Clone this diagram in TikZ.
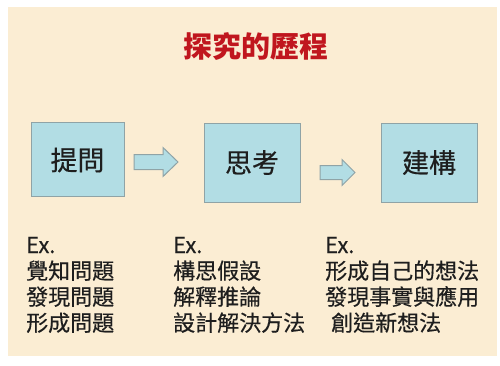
\documentclass[tikz,border=0pt]{standalone}
\usepackage{fontspec}
\setmainfont{Noto Sans CJK TC}
\newfontfamily\cjk{Noto Sans CJK TC}
\newfontfamily\cjkmed[FakeBold=0.4]{Noto Sans CJK TC}
\definecolor{bgbeige}{HTML}{FBEDD3}
\definecolor{boxfill}{HTML}{B2DDE4}
\definecolor{boxline}{HTML}{8FA3A6}
\definecolor{titlered}{HTML}{C0161E}
\definecolor{txt}{HTML}{1E1E1E}
\tikzset{
  stagebox/.style={draw=boxline, line width=1pt, fill=boxfill, inner sep=0pt},
  blockarrow/.style={draw=boxline, line width=1pt, fill=boxfill, line join=miter},
  stagetext/.style={font=\cjkmed\fontsize{27}{30}\selectfont, text=txt},
  example/.style={anchor=base west, inner sep=0pt, font=\cjkmed\fontsize{22}{26}\selectfont, text=txt},
}
\begin{document}
\begin{tikzpicture}[x=1pt,y=-1pt]
\useasboundingbox (0,0) rectangle (500,365);
\fill[white] (0,0) rectangle (500,365);
\fill[bgbeige] (8,7) rectangle (497,356);
\node[font=\cjk\bfseries\fontsize{29}{32}\selectfont, text=titlered] (title) at (255.5,47) {探究的歷程};
% stage boxes
\draw[stagebox] (31,122) rectangle (124,196);
\node[stagetext] (ask) at (77.5,160) {提問};
\draw[stagebox] (204,123) rectangle (300,202);
\node[stagetext] (think) at (252,162.5) {思考};
\draw[stagebox] (381,123) rectangle (477,202);
\node[stagetext] (build) at (429,162.5) {建構};
% block arrows
\draw[blockarrow] (134,154.5) -- (163,154.5) -- (163,147.5) -- (178,162) -- (163,176.5) -- (163,169.5) -- (134,169.5) -- cycle;
\draw[blockarrow] (320,165.5) -- (342,165.5) -- (342,159.5) -- (355,172.5) -- (342,185.5) -- (342,179.5) -- (320,179.5) -- cycle;
% examples
\node[example] (e1) at (26,253) {Ex.};
\node[example] (e1a) at (26,279) {覺知問題};
\node[example] (e1b) at (26,305) {發現問題};
\node[example] (e1c) at (26,331) {形成問題};
\node[example] (e2) at (173,253) {Ex.};
\node[example] (e2a) at (173,279) {構思假設};
\node[example] (e2b) at (173,305) {解釋推論};
\node[example] (e2c) at (173,331) {設計解決方法};
\node[example] (e3) at (325,253) {Ex.};
\node[example] (e3a) at (325,279) {形成自己的想法};
\node[example] (e3b) at (325,305) {發現事實與應用};
\node[example] (e3c) at (331,331) {創造新想法};
\end{tikzpicture}
\end{document}
